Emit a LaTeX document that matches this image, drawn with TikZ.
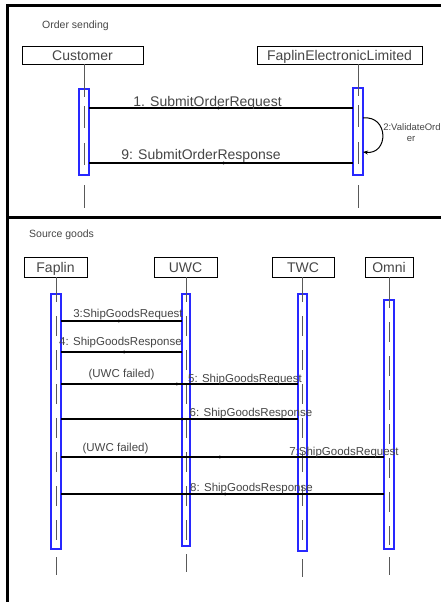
\documentclass[tikz,border=0pt]{standalone}
\usepackage{fontspec}
\setmainfont{Liberation Sans}
\usetikzlibrary{arrows.meta,decorations.markings,calc}
\definecolor{actblue}{RGB}{40,40,255}
\definecolor{txtgray}{RGB}{70,70,70}
\begin{document}
\begin{tikzpicture}[x=1pt,y=-1pt,
  frame/.style={draw=black,line width=3pt},
  objbox/.style={draw=black,line width=0.8pt,inner sep=0pt,text height=10pt,text depth=0pt,font=\fontsize{14}{16}\selectfont,text=txtgray},
  actbox/.style={draw=actblue,line width=1.1pt,inner sep=0pt,outer sep=0pt},
  life/.style={draw=black!65,line width=1pt},
  lifedash/.style={life,dash pattern=on 20pt off 14pt},
  msg/.style={draw=black,line width=1.2pt,postaction={decorate},
    decoration={markings,mark=at position 0.5 with {\arrow{Stealth[length=3pt,width=3pt]}}}},
  lbl/.style={font=\fontsize{11.5}{13}\selectfont,text=txtgray,inner sep=0pt,anchor=base},
  biglbl/.style={font=\fontsize{14}{16}\selectfont,text=txtgray,inner sep=0pt,anchor=base},
  smalllbl/.style={font=\fontsize{9.5}{11}\selectfont,text=txtgray,inner sep=0pt,anchor=base},
  ttl/.style={font=\fontsize{10.5}{12}\selectfont,text=txtgray,inner sep=0pt,anchor=base west}]
\useasboundingbox (0,0) rectangle (441,602);
\fill[white] (0,0) rectangle (441,602);
% frame
\draw[frame] (7.5,602) -- (7.5,5.5) -- (441,5.5);
\draw[frame] (7.5,217) -- (441,217);

% ---------- Order sending ----------
\node[ttl] (t1) at (42,28.3) {Order sending};
\node[objbox,minimum width=121pt,minimum height=18pt] (cust) at (82.5,55) {Customer};
\node[objbox,minimum width=165pt,minimum height=18pt] (fel) at (339.5,55) {FaplinElectronicLimited};

\coordinate (lcust) at (84,132);
\coordinate (lfel) at (358,131.5);
\node[actbox,minimum width=10pt,minimum height=86pt] (aCust) at (lcust) {};
\node[actbox,minimum width=10pt,minimum height=87pt] (aFel) at (lfel) {};

\foreach \a/\b in {aCust/cust,aFel/fel}{
  \draw[life] (\a.north |- \b.south) -- ($(\a.north)+(0,8)$);
  \draw[life,dash pattern=on 22pt off 15pt] ($(\a.north)+(0,17)$) -- ($(\a.south)+(0,-4)$);
  \draw[life] ($(\a.south)+(0,10)$) -- ($(\a.south)+(0,33)$);
}

\coordinate (y1) at (0,108);
\coordinate (y2a) at (0,118);
\coordinate (y2b) at (0,152);
\coordinate (y9) at (0,163);
\draw[msg] (aCust.east |- y1) -- (aFel.west |- y1);
\node[biglbl] (l1) at (207.5,106) {1. SubmitOrderRequest};
\draw[black,line width=1pt,-{Stealth[length=5pt,width=4pt]}] (aFel.east |- y2a) .. controls +(26,-3) and +(26,3) .. (aFel.east |- y2b);
\node[smalllbl] (l2a) at (412,130.7) {2:ValidateOrd};
\node[smalllbl] (l2b) at (411,141.7) {er};
\draw[msg,line width=1.6pt] (aFel.west |- y9) -- (aCust.east |- y9);
\node[biglbl] (l9) at (201,159) {9: SubmitOrderResponse};

% ---------- Source goods ----------
\node[ttl] (t2) at (29,237.3) {Source goods};
\node[objbox,minimum width=63pt,minimum height=20pt] (fap) at (55.5,267) {Faplin};
\node[objbox,minimum width=63pt,minimum height=20pt] (uwc) at (185.5,267) {UWC};
\node[objbox,minimum width=62pt,minimum height=20pt] (twc) at (303,267) {TWC};
\node[objbox,minimum width=48pt,minimum height=20pt] (omni) at (389,267) {Omni};
\node[actbox,minimum width=10pt,minimum height=255pt] (aFap) at (56,421.5) {};
\node[actbox,minimum width=8pt,minimum height=252pt] (aUwc) at (186,420) {};
\node[actbox,minimum width=9pt,minimum height=257pt] (aTwc) at (302.5,422.5) {};
\node[actbox,minimum width=10pt,minimum height=249pt] (aOmni) at (389,424.5) {};

\foreach \a/\b in {aFap/fap,aUwc/uwc,aTwc/twc,aOmni/omni}{
  \draw[life] (\a.north |- \b.south) -- ($(\a.north)+(0,8)$);
  \draw[lifedash] ($(\a.north)+(0,22)$) -- ($(\a.south)+(0,-4)$);
  \draw[life] ($(\a.south)+(0,8)$) -- ($(\a.south)+(0,26)$);
}

\coordinate (y3) at (0,321);
\coordinate (y4) at (0,352);
\coordinate (y5) at (0,384);
\coordinate (y6) at (0,419);
\coordinate (y7) at (0,457);
\coordinate (y8) at (0,494);

\draw[msg] (aFap.east |- y3) -- (aUwc.west |- y3);
\node[lbl] (l3) at (128,317.3) {3:ShipGoodsRequest};
\draw[msg] (aUwc.west |- y4) -- (aFap.east |- y4);
\node[lbl] (l4) at (120.5,345.7) {4: ShipGoodsResponse};
\draw[msg] (aFap.east |- y5) -- (aTwc.west |- y5);
\node[lbl] (l5a) at (121.5,377) {(UWC failed)};
\node[lbl] (l5b) at (245,382.7) {5: ShipGoodsRequest};
\draw[msg] (aTwc.west |- y6) -- (aFap.east |- y6);
\node[lbl] (l6) at (251,416) {6: ShipGoodsResponse};
\draw[msg] (aFap.east |- y7) -- (aOmni.west |- y7);
\node[lbl] (l7a) at (115.5,451.5) {(UWC failed)};
\node[lbl] (l7b) at (344,455) {7:ShipGoodsRequest};
\draw[msg] (aOmni.west |- y8) -- (aFap.east |- y8);
\node[lbl] (l8) at (251.5,491.7) {8: ShipGoodsResponse};
\end{tikzpicture}
\end{document}
